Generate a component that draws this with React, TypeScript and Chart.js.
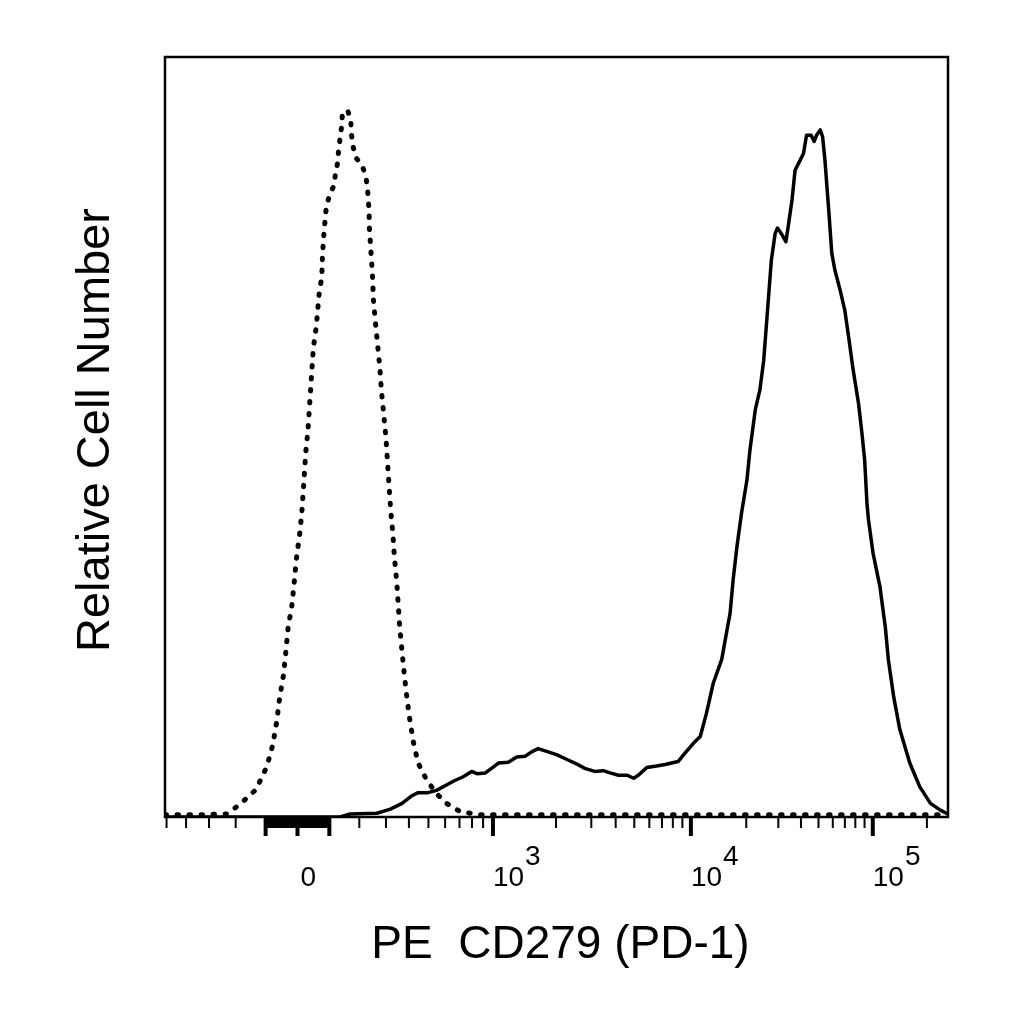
import React, { useEffect, useRef } from "react";
import { Chart, registerables } from "chart.js";

Chart.register(...registerables);

// Display channels (biexponential / logicle display, 0..1024) and relative counts
const CHANNEL_MAX = 1024;
const COUNT_MAX = 100;

const ISO_CHANNEL = [
  0, 46, 81, 97, 119, 133, 141, 146, 150, 155,
  158, 161, 166, 169, 172, 176, 179, 182, 184, 187,
  189, 191, 194, 198, 202, 205, 206, 208, 211, 215,
  221, 223, 226, 227, 229, 231, 232, 239, 243, 244,
  246, 250, 258, 263, 265, 266, 267, 267, 268, 269,
  270, 271, 272, 272, 275, 278, 281, 283, 286, 289,
  291, 293, 295, 298, 300, 303, 305, 307, 310, 313,
  316, 320, 325, 331, 342, 355, 368, 386, 412, 1024,
];
const ISO_COUNT = [
  0.3, 0.3, 0.4, 1.6, 3.6, 6.6, 9.5, 12.5, 15.7, 18.7,
  21.7, 24.9, 27.9, 30.9, 34.1, 37.1, 40.1, 44.7, 47.9, 50.9,
  54.0, 57.1, 61.7, 64.7, 69.3, 70.9, 74.0, 77.0, 80.3, 81.8,
  83.1, 84.7, 86.2, 87.8, 89.3, 90.9, 92.5, 93.0, 91.5, 89.7,
  88.2, 86.7, 85.7, 84.1, 82.5, 81.0, 79.5, 77.9, 76.4, 74.9,
  73.3, 71.8, 70.1, 68.7, 65.3, 62.2, 59.1, 56.1, 53.1, 49.8,
  46.7, 43.6, 40.5, 37.3, 34.2, 31.1, 28.0, 24.9, 21.8, 18.7,
  16.0, 12.9, 9.8, 7.1, 4.9, 3.1, 1.8, 0.7, 0.3, 0.3,
];

const PD1_CHANNEL = [
  0, 229, 242, 277, 294, 310, 323, 331, 344, 355,
  368, 379, 390, 401, 408, 419, 427, 436, 449, 460,
  471, 480, 488, 497, 512, 525, 538, 549, 562, 573,
  582, 593, 604, 613, 619, 630, 643, 654, 671, 680,
  691, 700, 708, 717, 728, 735, 739, 743, 748, 754,
  761, 765, 772, 778, 783, 788, 793, 798, 801, 807,
  812, 815, 820, 824, 831, 835, 839, 845, 849, 852,
  857, 860, 863, 868, 872, 876, 883, 889, 894, 900,
  907, 911, 915, 918, 920, 926, 935, 942, 946, 953,
  961, 974, 987, 1001, 1014, 1022, 1024,
];
const PD1_COUNT = [
  0, 0, 0.4, 0.5, 1.0, 1.8, 2.8, 3.2, 3.2, 3.5,
  4.2, 4.8, 5.3, 6.0, 5.7, 5.8, 6.4, 7.1, 7.2, 7.9,
  8.0, 8.6, 9.0, 8.7, 8.2, 7.6, 7.0, 6.4, 6.0, 6.1,
  5.8, 5.5, 5.5, 5.1, 5.5, 6.5, 6.7, 6.9, 7.3, 8.4,
  9.7, 10.6, 13.6, 17.6, 20.7, 24.6, 26.8, 31.2, 35.6, 40.0,
  44.3, 48.3, 53.6, 56.2, 60.1, 66.7, 73.3, 76.8, 77.5, 76.6,
  75.7, 77.7, 81.2, 85.1, 86.5, 87.3, 89.7, 89.7, 88.9, 89.7,
  90.4, 89.5, 86.5, 79.9, 74.2, 72.0, 69.3, 66.7, 63.2, 58.8,
  54.4, 50.9, 47.0, 41.3, 39.1, 34.7, 30.3, 25.0, 20.7, 15.8,
  11.5, 7.1, 4.0, 1.8, 0.9, 0.5, 0.4,
];

// Axis tick labels
const LABEL_VALUES = [0, 1e3, 1e4, 1e5];
const LABEL_BASE = ["0", "10", "10", "10"];
const LABEL_EXP = ["", "3", "4", "5"];

const X_TITLE = "PE  CD279 (PD-1)";
const Y_TITLE = "Relative Cell Number";

// Logicle (biexponential) display parameters
const LOGICLE_T = 262144;
const LOGICLE_W = 0.69;
const LOGICLE_M = 4.326;
const LOGICLE_A = 0.042;

function makeLogicle(T: number, W: number, M: number, A: number) {
  const w = W / M;
  const x2 = A / M;
  const x1 = x2 + w;
  const x0 = x2 + 2 * w;
  const b = (M + A) * Math.LN10;
  let lo = 1e-9;
  let hi = b;
  for (let i = 0; i < 200; i++) {
    const mid = (lo + hi) / 2;
    const f = 2 * (Math.log(mid) - Math.log(b)) + w * (b + mid);
    if (f > 0) hi = mid;
    else lo = mid;
  }
  const d = (lo + hi) / 2;
  const ca = Math.exp(x0 * (b + d));
  const mfa = Math.exp(b * x1) - ca / Math.exp(d * x1);
  const a = T / (Math.exp(b) - mfa - ca / Math.exp(d));
  const c = ca * a;
  const f = -mfa * a;
  const S = (y: number) => a * Math.exp(b * y) - c * Math.exp(-d * y) + f;
  const posDisplay = (v: number) => {
    let l = x1;
    let h = 1.6;
    for (let i = 0; i < 100; i++) {
      const m = (l + h) / 2;
      if (S(m) < v) l = m;
      else h = m;
    }
    return (l + h) / 2;
  };
  return (v: number) => (v >= 0 ? posDisplay(v) : 2 * x1 - posDisplay(-v));
}

const logicle = makeLogicle(LOGICLE_T, LOGICLE_W, LOGICLE_M, LOGICLE_A);
const toChannel = (v: number) => logicle(v) * CHANNEL_MAX;

function buildTickValues() {
  const out: number[] = [0];
  for (const dec of [10, 100, 1000, 10000, 100000]) {
    for (let m = 1; m <= 9; m++) {
      out.push(m * dec);
      out.push(-m * dec);
    }
  }
  return out;
}
const TICK_VALUES = buildTickValues();

const FONT = '"Liberation Sans", Arial, Helvetica, sans-serif';

const flowAxes = {
  id: "flowAxes",
  beforeDatasetsDraw(chart: any) {
    const { ctx, chartArea } = chart;
    const xs = chart.scales.x;
    ctx.save();
    ctx.fillStyle = "#000";
    for (const v of TICK_VALUES) {
      const px = xs.getPixelForValue(toChannel(v));
      if (px < chartArea.left - 1 || px > chartArea.right + 1) continue;
      const av = Math.abs(v);
      let len = 11;
      let wid = 2;
      if (v === 0 || av === 1e3 || av === 1e4 || av === 1e5) {
        len = 19;
        wid = 4;
      } else if (av === 100) {
        len = 19;
        wid = 4;
      } else if (av < 100) {
        wid = 4;
      }
      ctx.fillRect(px - wid / 2, chartArea.bottom, wid, len);
    }
    ctx.lineWidth = 2.5;
    ctx.strokeStyle = "#000";
    ctx.strokeRect(
      chartArea.left,
      chartArea.top,
      chartArea.right - chartArea.left,
      chartArea.bottom - chartArea.top
    );
    ctx.restore();
  },
  afterDraw(chart: any) {
    const { ctx, chartArea } = chart;
    const xs = chart.scales.x;
    ctx.save();
    ctx.fillStyle = "#000";
    ctx.textBaseline = "alphabetic";
    ctx.textAlign = "left";
    ctx.font = `28px ${FONT}`;
    const base = chartArea.bottom + 69;
    LABEL_VALUES.forEach((v, i) => {
      const px = xs.getPixelForValue(toChannel(v));
      if (!LABEL_EXP[i]) {
        ctx.fillText(LABEL_BASE[i], px + 3, base);
      } else {
        ctx.fillText(LABEL_BASE[i], px, base);
        const w = ctx.measureText(LABEL_BASE[i]).width;
        ctx.fillText(LABEL_EXP[i], px + w + 1, base - 21);
      }
    });
    ctx.font = `46px ${FONT}`;
    ctx.textAlign = "center";
    ctx.fillText(X_TITLE, (chartArea.left + chartArea.right) / 2 + 4, chartArea.bottom + 141);
    ctx.font = `47px ${FONT}`;
    ctx.translate(chartArea.left - 56, (chartArea.top + chartArea.bottom) / 2 - 7);
    ctx.rotate(-Math.PI / 2);
    ctx.fillText(Y_TITLE, 0, 0);
    ctx.restore();
  },
};

export default function App() {
  const ref = useRef<HTMLCanvasElement>(null);
  useEffect(() => {
    if (!ref.current) return;
    const chart = new Chart(ref.current, {
      type: "line",
      data: {
        datasets: [
          {
            label: "Isotype control",
            data: ISO_CHANNEL.map((x, i) => ({ x, y: ISO_COUNT[i] })),
            borderColor: "#000",
            borderWidth: 5,
            borderDash: [1.5, 10.5],
            borderCapStyle: "round",
            fill: false,
            pointRadius: 0,
            tension: 0,
          },
          {
            label: "PE CD279 (PD-1)",
            data: PD1_CHANNEL.map((x, i) => ({ x, y: PD1_COUNT[i] })),
            borderColor: "#000",
            borderWidth: 3.5,
            borderJoinStyle: "round",
            borderCapStyle: "round",
            fill: false,
            pointRadius: 0,
            tension: 0,
          },
        ],
      },
      options: {
        responsive: false,
        devicePixelRatio: 1,
        animation: false,
        layout: { padding: { left: 165, right: 76, top: 57, bottom: 207 } },
        plugins: { legend: { display: false }, tooltip: { enabled: false } },
        scales: {
          x: { type: "linear", min: 0, max: CHANNEL_MAX, display: false },
          y: { type: "linear", min: 0, max: COUNT_MAX, display: false },
        },
      },
      plugins: [flowAxes],
    } as any);
    return () => chart.destroy();
  }, []);
  return (
    <div style={{ position: "absolute", left: 0, top: 0, width: 1024, height: 1024, background: "#fff" }}>
      <canvas ref={ref} width={1024} height={1024} style={{ display: "block", width: 1024, height: 1024 }} />
    </div>
  );
}
